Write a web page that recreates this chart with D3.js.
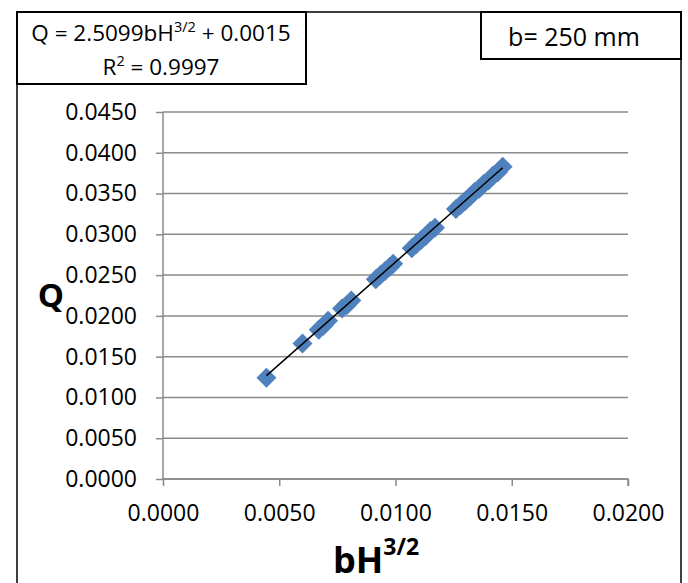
<!DOCTYPE html>
<html>
<head>
<meta charset="utf-8">
<script src="https://cdn.jsdelivr.net/npm/d3@7"></script>
<style>
  html, body { margin: 0; padding: 0; background: #fff; }
  svg { display: block; }
  text { font-family: "Open Sans", "Noto Sans", sans-serif; fill: #000; }
</style>
</head>
<body>
<svg id="chart" width="688" height="583"></svg>
<script>
// ---- data ----
const bH32 = [0.00445, 0.00600,
  0.00670, 0.00690, 0.00710,
  0.00770, 0.00790, 0.00810,
  0.00915, 0.00935, 0.00955, 0.00975, 0.00990,
  0.01070, 0.01090, 0.01110, 0.01130, 0.01150, 0.01170,
  0.01260, 0.01280, 0.01300, 0.01320, 0.01340, 0.01360, 0.01380, 0.01400, 0.01420, 0.01440, 0.01461];
const Qvals = [0.0124, 0.0166,
  0.0183, 0.0188, 0.0194,
  0.0209, 0.0213, 0.0219,
  0.0245, 0.0250, 0.0255, 0.0260, 0.0264,
  0.0283, 0.0288, 0.0293, 0.0298, 0.0304, 0.0308,
  0.0331, 0.0336, 0.0341, 0.0346, 0.0352, 0.0356, 0.0362, 0.0366, 0.0372, 0.0376, 0.0383];
const xTicks = [0, 0.005, 0.010, 0.015, 0.020];
const yTicks = [0, 0.005, 0.010, 0.015, 0.020, 0.025, 0.030, 0.035, 0.040, 0.045];
const trendSlope = 2.5099;
const trendIntercept = 0.0015;
const eqText = "Q = 2.5099bH";
const eqTail = " + 0.0015";
const r2Text = " = 0.9997";
const widthLabel = "b= 250 mm";

const svg = d3.select("#chart");
const points = bH32.map((x, i) => ({ x, q: Qvals[i] }));

const x = d3.scaleLinear().domain([0, 0.02]).range([163, 628]);
const y = d3.scaleLinear().domain([0, 0.045]).range([479, 112]);

const grey = "#8a8a8a";

// outer chart border
svg.append("rect").attr("x", 17).attr("y", 12).attr("width", 664).attr("height", 600)
  .attr("fill", "none").attr("stroke", "#000").attr("stroke-width", 1.5);

// gridlines
svg.append("g").selectAll("line").data(yTicks).join("line")
  .attr("x1", x(0)).attr("x2", x(0.02))
  .attr("y1", d => y(d)).attr("y2", d => y(d))
  .attr("stroke", grey).attr("stroke-width", 1.5);

const fmt = d3.format(".4f");

const yAxis = svg.append("g").attr("transform", `translate(${x(0)},0)`)
  .call(d3.axisLeft(y).tickValues(yTicks).tickFormat(fmt).tickSize(7).tickPadding(19));
const xAxis = svg.append("g").attr("transform", `translate(0,${y(0)})`)
  .call(d3.axisBottom(x).tickValues(xTicks).tickFormat(fmt).tickSize(7).tickPadding(19));

[yAxis, xAxis].forEach(g => {
  g.select(".domain").attr("stroke", grey).attr("stroke-width", 1.5);
  g.selectAll(".tick line").attr("stroke", grey).attr("stroke-width", 1.5);
  g.selectAll(".tick text").attr("font-size", 23).attr("font-family", '"Open Sans", sans-serif').attr("fill", "#000");
});
xAxis.select(".domain").attr("d", `M${x(0)},0H${x(0.02)}V7`);
yAxis.select(".domain").attr("d", `M0,${y(0.045)}V${y(0)}`);

// markers
const diamond = d3.symbol().type(d3.symbolSquare).size(200);
svg.append("g").selectAll("path").data(points).join("path")
  .attr("d", diamond)
  .attr("transform", d => `translate(${x(d.x)},${y(d.q)}) rotate(45)`)
  .attr("fill", "#4F81BD");

// trendline
const xMin = d3.min(bH32), xMax = d3.max(bH32);
svg.append("line")
  .attr("x1", x(xMin)).attr("y1", y(trendSlope * xMin + trendIntercept))
  .attr("x2", x(xMax)).attr("y2", y(trendSlope * xMax + trendIntercept))
  .attr("stroke", "#000").attr("stroke-width", 1.5);

// axis titles
svg.append("text").attr("x", 51).attr("y", 307).attr("text-anchor", "middle")
  .attr("font-size", 33).attr("font-weight", "bold").text("Q");

const xt = svg.append("text").attr("x", 376).attr("y", 573).attr("text-anchor", "middle")
  .attr("font-size", 36).attr("font-weight", "bold");
xt.append("tspan").text("bH");
xt.append("tspan").attr("font-size", 23).attr("dy", -18).text("3/2");

// equation box
svg.append("rect").attr("x", 17).attr("y", 12).attr("width", 289).attr("height", 72)
  .attr("fill", "#fff").attr("stroke", "#000").attr("stroke-width", 2);
const eq1 = svg.append("text").attr("x", 161).attr("y", 41).attr("text-anchor", "middle").attr("font-size", 22.5);
eq1.append("tspan").text(eqText);
eq1.append("tspan").attr("font-size", 14.5).attr("dy", -9).text("3/2");
eq1.append("tspan").attr("dy", 9).text(eqTail);
const eq2 = svg.append("text").attr("x", 161).attr("y", 75).attr("text-anchor", "middle").attr("font-size", 22.5);
eq2.append("tspan").text("R");
eq2.append("tspan").attr("font-size", 14.5).attr("dy", -9).text("2");
eq2.append("tspan").attr("dy", 9).text(r2Text);

// b box
svg.append("rect").attr("x", 481).attr("y", 12).attr("width", 200).attr("height", 47)
  .attr("fill", "#fff").attr("stroke", "#000").attr("stroke-width", 2);
svg.append("text").attr("x", 574).attr("y", 46).attr("text-anchor", "middle")
  .attr("font-size", 25).text(widthLabel);
</script>
</body>
</html>
